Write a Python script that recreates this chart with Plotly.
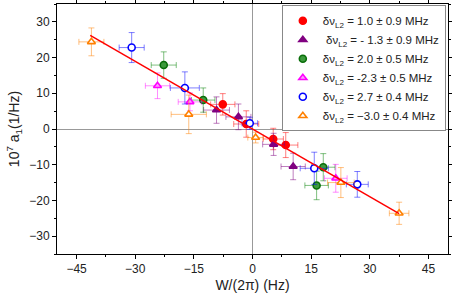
import plotly.graph_objects as go

# ---- data ----
red_x = [-7.6, -1.6, 5.3, 8.5]
red_y = [6.9, 1.4, -2.8, -4.5]
red_ex = [3.1, 3.2, 2.6, 3.1]
red_ey = [3.0, 3.7, 3.0, 3.5]

pur_x = [-9.2, -3.6, 5.4, 10.4]
pur_y = [5.3, 3.4, -4.3, -10.5]
pur_ex = [3.3, 3.2, 2.8, 3.1]
pur_ey = [3.7, 3.6, 3.1, 3.7]

grn_x = [-22.7, -12.6, 18.1, 16.4]
grn_y = [17.9, 8.1, -10.7, -15.8]
grn_ex = [3.2, 3.0, 3.0, 3.0]
grn_ey = [3.7, 3.4, 3.8, 4.0]

mag_x = [-24.3, -16.0, 21.3]
mag_y = [12.1, 7.6, -13.8]
mag_ex = [3.1, 3.0, 2.9]
mag_ey = [3.6, 2.5, 3.9]

blu_x = [-30.9, -17.3, -0.7, 15.8, 26.8]
blu_y = [22.8, 11.5, 1.6, -11.0, -15.5]
blu_ex = [3.2, 3.7, 2.0, 3.6, 2.8]
blu_ey = [4.2, 4.5, 1.7, 4.5, 3.6]

orn_x = [-41.2, -16.3, 0.8, 22.6, 37.5]
orn_y = [24.4, 4.1, -2.4, -15.0, -23.6]
orn_ex = [3.2, 4.5, 2.0, 3.4, 2.5]
orn_ey = [3.9, 5.4, 1.5, 4.2, 3.1]

labels = [
    "δν<sub>L2</sub> = 1.0 ± 0.9 MHz",
    " δν<sub>L2</sub> = - 1.3 ± 0.9 MHz",
    "δν<sub>L2</sub> = 2.0 ± 0.5 MHz",
    "δν<sub>L2</sub> = -2.3 ± 0.5 MHz",
    "δν<sub>L2</sub> = 2.7 ± 0.4 MHz",
    "δν<sub>L2</sub> = −3.0 ± 0.4 MHz",
]

fit_slope = -0.632
fit_x = [-41.5, 37.5]

x_ticks = [-45, -30, -15, 0, 15, 30, 45]
y_ticks = [-30, -20, -10, 0, 10, 20, 30]

# ---- styling ----
series = [
    (red_x, red_y, red_ex, red_ey, "circle", "#ff0000", "#ff0000", "rgba(255,0,0,0.5)"),
    (pur_x, pur_y, pur_ex, pur_ey, "triangle-up", "#800080", "#800080", "rgba(128,0,128,0.5)"),
    (grn_x, grn_y, grn_ex, grn_ey, "circle", "#3d9a3d", "#0a6e0a", "rgba(0,128,0,0.5)"),
    (mag_x, mag_y, mag_ex, mag_ey, "triangle-up", "#ff99ff", "#ff00ff", "rgba(255,0,255,0.45)"),
    (blu_x, blu_y, blu_ex, blu_ey, "circle", "#ffffff", "#0000ff", "rgba(0,0,255,0.5)"),
    (orn_x, orn_y, orn_ex, orn_ey, "triangle-up", "#ffffff", "#ff8000", "rgba(255,128,0,0.5)"),
]

fig = go.Figure()
for (x, y, ex, ey, sym, fill, line, ecol), lab in zip(series, labels):
    fig.add_trace(go.Scatter(
        x=x, y=y, mode="markers", name=lab,
        marker=dict(symbol=sym, size=7, color=fill, line=dict(color=line, width=1.6)),
        error_x=dict(type="data", array=ex, color=ecol, thickness=1, width=3),
        error_y=dict(type="data", array=ey, color=ecol, thickness=1, width=3),
    ))

fig.add_trace(go.Scatter(
    x=fit_x, y=[fit_slope * v for v in fit_x], mode="lines",
    line=dict(color="#ff0000", width=1.5), showlegend=False, hoverinfo="skip",
))

axis_common = dict(
    showline=True, linecolor="black", linewidth=1, mirror="allticks",
    ticks="outside", ticklen=4, tickcolor="black", showgrid=False,
    zeroline=True, zerolinecolor="#999999", zerolinewidth=1,
    tickfont=dict(size=12, color="#222"), automargin=False,
)

fig.update_layout(
    width=452, height=300,
    margin=dict(l=57, r=4, t=4, b=46, autoexpand=False),
    paper_bgcolor="white", plot_bgcolor="white",
    font=dict(family="Liberation Sans, Arial, sans-serif", color="#222"),
    xaxis=dict(range=[-50, 50], tickvals=x_ticks,
               minor=dict(dtick=7.5, tick0=0, ticks="outside", ticklen=2, tickcolor="black"),
               title=dict(text="W/(2π) (Hz)", font=dict(size=14), standoff=4),
               **axis_common),
    yaxis=dict(range=[-35, 35], tickvals=y_ticks,
               minor=dict(dtick=5, tick0=0, ticks="outside", ticklen=2, tickcolor="black"),
               title=dict(text="10<sup>7</sup> a<sub>1</sub>(1/Hz)", font=dict(size=14), standoff=6),
               **axis_common),
    legend=dict(x=0.575, y=0.995, xanchor="left", yanchor="top",
                bordercolor="#888", borderwidth=1, bgcolor="white",
                font=dict(size=11.5), itemwidth=30, tracegroupgap=0),
    showlegend=True,
)

fig.write_html("out.html", config={"displayModeBar": False},
               post_script="document.body.style.margin='0';")
